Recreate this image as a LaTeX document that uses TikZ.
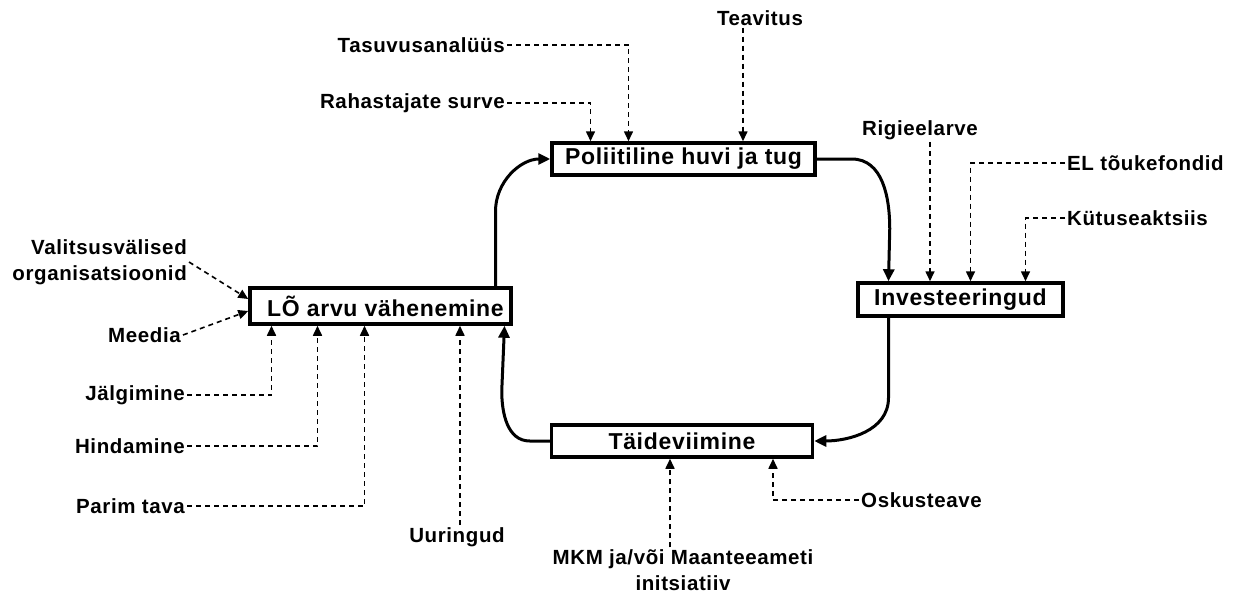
\documentclass[tikz,border=0pt]{standalone}
\usepackage{fontspec}
\setmainfont[LetterSpace=3]{Liberation Sans}
\usetikzlibrary{arrows.meta}

\tikzset{
  box/.style={draw, line width=3.5pt, inner sep=0pt, font=\bfseries\fontsize{23}{26}\selectfont},
  lbl/.style={inner sep=2pt, font=\bfseries\fontsize{20.5}{26}\selectfont},
  feed/.style={line width=1.6pt, dash pattern=on 5pt off 4pt, -{Triangle[length=10pt,width=9pt]}},
  flow/.style={line width=3pt, line cap=round, -{Triangle[length=12pt,width=11pt]}},
}

\begin{document}
\begin{tikzpicture}[x=1pt,y=-1pt]
		\useasboundingbox (0,0) rectangle (1235,594);
		% the four stages
		\node[box, minimum width=263pt, minimum height=32pt] (pol) at (683.5,159) {Poliitiline huvi ja tug};
		\node[box, minimum width=205pt, minimum height=33pt] (inv) at (960.5,299.5) {Investeeringud};
		\node[box, minimum width=261pt, minimum height=32pt] (tai) at (682,441) {Täideviimine};
		\node[box, minimum width=261pt, minimum height=36pt] (lo) at (380.5,306) {\hspace{10pt}LÕ arvu vähenemine};
		%%%%% inputs of pol
		\node[lbl] (tea) at (760,18) {Teavitus};
		\node[lbl, anchor=east] (tas) at (507,45) {Tasuvusanalüüs};
		\node[lbl, anchor=east] (rah) at (507,103) {Rahastajate surve};
		%%%%% inputs of inv
		\node[lbl] (rig) at (920,130) {Rigieelarve};
		\node[lbl, anchor=west] (elf) at (1065,163) {EL tõukefondid};
		\node[lbl, anchor=west] (kyt) at (1065,218) {Kütuseaktsiis};
		%%%%% inputs of tai
		\node[lbl, anchor=west] (osk) at (859,500) {Oskusteave};
		\node[lbl, align=center] (mkm) at (683,570) {MKM ja/või Maanteeameti\\initsiatiiv};
		%%%%% inputs of lo
		\node[lbl, align=right, anchor=east] (val) at (189,262) {Valitsusvälised\\organisatsioonid};
		\node[lbl, anchor=east] (med) at (183,335) {Meedia};
		\node[lbl, anchor=east] (jal) at (187,395) {Jälgimine};
		\node[lbl, anchor=east] (hin) at (187,446) {Hindamine};
		\node[lbl, anchor=east] (par) at (187,506) {Parim tava};
		\node[lbl] (uur) at (457,537) {Uuringud};
		% Cycle
		\draw[flow] ([xshift=115pt]lo.north) -- ++(0,-75) to[out=90,in=180] (pol.west);
		\draw[flow] (pol.east) -- ++(35,0) to[out=0,in=90] ++(38,70) -- ([xshift=-72pt]inv.north);
		\draw[flow] ([xshift=-72pt]inv.south) -- ++(0,80) to[out=-90,in=0] (tai.east);
		\draw[flow] (tai.west) -- ++(-20,0) to[out=180,in=-90] ++(-28,-50) -- ([xshift=124pt]lo.south);
		% Dashed inputs
		\draw[feed] ([xshift=-17pt]tea.south) -- ([xshift=-17pt]tea.south |- pol.north);
		\draw[feed] (tas.east) -| ([xshift=-55pt]pol.north);
		\draw[feed] (rah.east) -| ([xshift=-93pt]pol.north);
		\draw[feed] ([xshift=10pt]rig.south) -- ([xshift=10pt]rig.south |- inv.north);
		\draw[feed] (elf.west) -| ([xshift=10pt]inv.north);
		\draw[feed] (kyt.west) -| ([xshift=65pt]inv.north);
		\draw[feed] (osk.west) -| ([xshift=91pt]tai.south);
		\draw[feed] ([xshift=-13pt]mkm.north) -- ([xshift=-13pt]mkm.north |- tai.south);
		\draw[feed] (val.east) -- ([yshift=7pt]lo.west);
		\draw[feed] (med.east) -- ([yshift=-5pt]lo.west);
		\draw[feed] (jal.east) -| ([xshift=-109pt]lo.south);
		\draw[feed] (hin.east) -| ([xshift=-63pt]lo.south);
		\draw[feed] (par.east) -| ([xshift=-16pt]lo.south);
		\draw[feed] ([xshift=3pt]uur.north) -- ([xshift=3pt]uur.north |- lo.south);
	\end{tikzpicture}
\end{document}
